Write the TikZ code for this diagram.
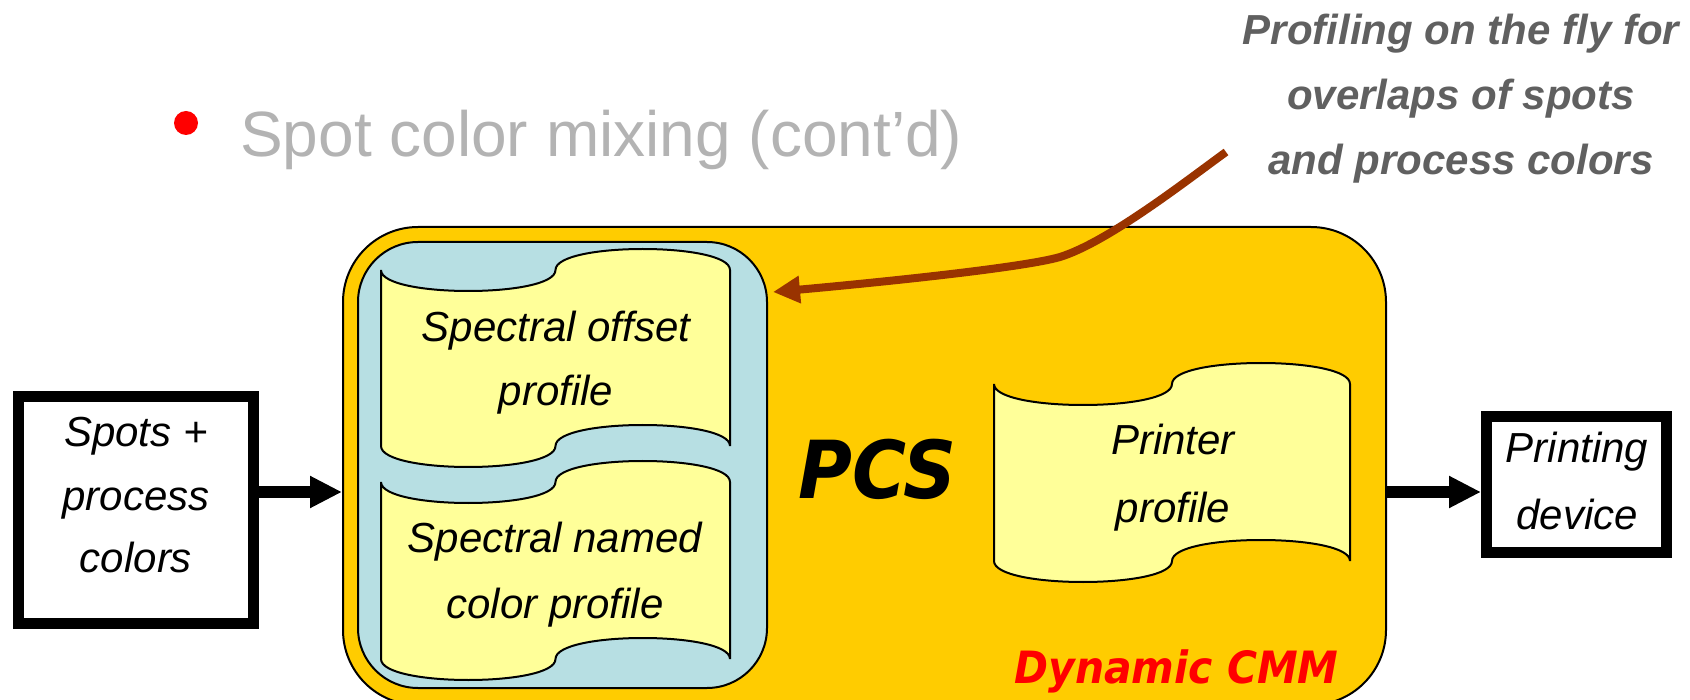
\documentclass[tikz,border=0pt]{standalone}
\usepackage{fontspec}
\setmainfont{Liberation Sans}
\newfontfamily\verd[FakeStretch=0.92]{DejaVu Sans}
\usetikzlibrary{arrows.meta}
\definecolor{cmmyellow}{HTML}{FFCC00}
\definecolor{pcsblue}{HTML}{B7DFE3}
\definecolor{tapeyellow}{HTML}{FFFF99}
\definecolor{titlegray}{HTML}{B3B3B3}
\definecolor{notegray}{HTML}{606060}
\definecolor{arrowbrown}{HTML}{993300}
\newcommand\tapeshape[4]{%
  \pgfmathsetmacro\tm{(#1+#2)/2}%
  \draw[tape] (#1,#3) .. controls (#1,#3+28) and (\tm,#3+28) .. (\tm,#3)
    .. controls (\tm,#3-28) and (#2,#3-28) .. (#2,#3) -- (#2,#4)
    .. controls (#2,#4-28) and (\tm,#4-28) .. (\tm,#4)
    .. controls (\tm,#4+28) and (#1,#4+28) .. (#1,#4) -- cycle;}
\newcommand\lines[1]{\begin{tabular}[t]{@{}c@{}}#1\end{tabular}}
\begin{document}
\begin{tikzpicture}[x=1pt,y=-1pt,
  frame/.style={draw, line width=2pt},
  iobox/.style={draw, line width=11pt, fill=white, inner sep=0},
  lbl/.style={inner sep=0, anchor=base, font=\itshape\fontsize{42}{#1}\selectfont},
  bigarrow/.style={line width=12pt, -{Triangle[length=32pt,width=30pt]}},
  callout/.style={line width=8pt, draw=arrowbrown, -{Triangle[length=27pt,width=26pt]}},
  tape/.style={draw, line width=2pt, fill=tapeyellow}]
\useasboundingbox (0,0) rectangle (1690,700);
% title
\fill[red] (186,123) circle[radius=12pt];
\node[anchor=base west, inner sep=0, text=titlegray, font=\fontsize{64}{77}\selectfont] (title) at (240,157) {Spot color mixing (cont’d)};
% containers
\node[frame, fill=cmmyellow, rounded corners=75pt, minimum width=1043pt, minimum height=478pt, inner sep=0] (cmm) at (864.5,466) {};
\node[frame, fill=pcsblue, rounded corners=60pt, minimum width=409pt, minimum height=446pt, inner sep=0] (pcs) at (562.5,465) {};
% tapes
\tapeshape{381}{730}{270}{446}
\tapeshape{381}{730}{482}{659}
\tapeshape{994}{1350}{384}{561}
\node[lbl=64] (offset) at (556,342) {\lines{Spectral offset\\profile}};
\node[lbl=66] (named) at (555,552) {\lines{Spectral named\\color profile}};
\node[lbl=67] (printer) at (1173,455) {\lines{Printer\\profile}};
\node[inner sep=0, anchor=base, font=\verd\bfseries\itshape\fontsize{80}{90}\selectfont] (pcstext) at (877.5,498) {PCS};
\node[inner sep=0, anchor=base, text=red, font=\verd\bfseries\itshape\fontsize{44.5}{50}\selectfont] (dyn) at (1176.5,683) {Dynamic CMM};
% input / output boxes
\node[iobox, minimum width=235pt, minimum height=227pt] (src) at (136,510) {};
\node[lbl=63] (srctext) at (136,447) {\lines{Spots +\\process\\colors}};
\node[iobox, minimum width=180pt, minimum height=136pt] (dev) at (1576.5,484.5) {};
\node[lbl=67] (devtext) at (1577,463) {\lines{Printing\\device}};
% arrows
\coordinate (lvl) at (0,492);
\draw[bigarrow] (src.east |- lvl) -- (cmm.west |- lvl);
\draw[bigarrow] (cmm.east |- lvl) -- (dev.west |- lvl);
% annotation
\node[inner sep=0, anchor=base, text=notegray, font=\bfseries\itshape\fontsize{42}{65}\selectfont] (note) at (1461,45) {\lines{Profiling on the fly for\\overlaps of spots\\and process colors}};
\coordinate (cs) at (1226,152);
\coordinate (ct) at (773,292);
\draw[callout] (cs) .. controls (1186,181) and (1108,242) .. (1060,257)
  .. controls (1022,268) and (873,283) .. (ct);
\end{tikzpicture}
\end{document}
